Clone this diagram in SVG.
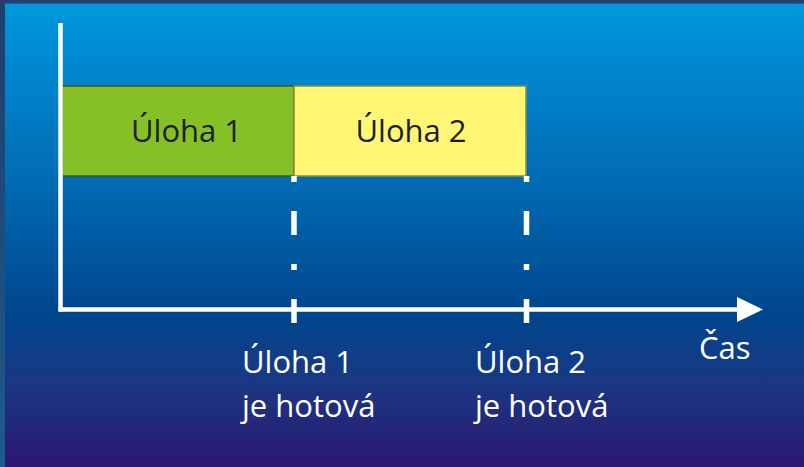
<svg xmlns="http://www.w3.org/2000/svg" width="804" height="467" viewBox="0 0 804 467">
  <defs>
    <linearGradient id="bg" x1="0" y1="0" x2="0" y2="1">
      <stop offset="0" stop-color="#0098df"/>
      <stop offset="0.35" stop-color="#0070b8"/>
      <stop offset="0.68" stop-color="#00458c"/>
      <stop offset="0.82" stop-color="#1a3883"/>
      <stop offset="1" stop-color="#2c1670"/>
    </linearGradient>
    <linearGradient id="edge" x1="0" y1="0" x2="0" y2="1">
      <stop offset="0" stop-color="#1f3e6e"/>
      <stop offset="1" stop-color="#1f5a8c"/>
    </linearGradient>
  </defs>
  <style>
    .axis { stroke: #ffffff; stroke-width: 4.5; fill: none; }
    .marker { stroke: #ffffff; stroke-width: 5.5; stroke-dasharray: 6 29 24 29; fill: none; }
    .tick { stroke: #ffffff; stroke-width: 5.5; fill: none; }
    .barText { font-family: "Open Sans", "Noto Sans", sans-serif; font-size: 31px; fill: #1e1e1e; }
    .label { font-family: "Open Sans", "Noto Sans", sans-serif; font-size: 31px; fill: #ffffff; }
  </style>
  <rect x="0" y="0" width="804" height="467" fill="url(#bg)"/>
  <rect x="0" y="0" width="5" height="467" fill="url(#edge)"/>
  <rect x="0" y="0" width="804" height="3.5" fill="#223f6e"/>

  <g id="task1">
    <rect x="62" y="86" width="232" height="90" fill="#86c027" stroke="#46561c" stroke-width="1.5"/>
    <text class="barText" x="131" y="142">Úloha 1</text>
  </g>
  <g id="task2">
    <rect x="294" y="86" width="232" height="90" fill="#fff773" stroke="#8f8a3c" stroke-width="1.5"/>
    <text class="barText" x="411" y="142" text-anchor="middle">Úloha 2</text>
  </g>

  <g id="connectors">
    <line class="axis" x1="60.5" y1="23" x2="60.5" y2="311.5"/>
    <line class="axis" x1="58.5" y1="309.5" x2="740" y2="309.5"/>
    <polygon points="737,297 763,309.5 737,322" fill="#ffffff"/>
    <line class="marker" x1="294" y1="176" x2="294" y2="299"/>
    <line class="marker" x1="526.5" y1="176" x2="526.5" y2="299"/>
    <line class="tick" x1="294" y1="299" x2="294" y2="323"/>
    <line class="tick" x1="526.5" y1="299" x2="526.5" y2="323"/>
  </g>

  <g id="done1">
    <text class="label" x="242" y="373">Úloha 1</text>
    <text class="label" x="242" y="417">je hotová</text>
  </g>
  <g id="done2">
    <text class="label" x="475" y="373">Úloha 2</text>
    <text class="label" x="475" y="417">je hotová</text>
  </g>
  <g id="time">
    <text class="label" x="699" y="359">Čas</text>
  </g>
</svg>
